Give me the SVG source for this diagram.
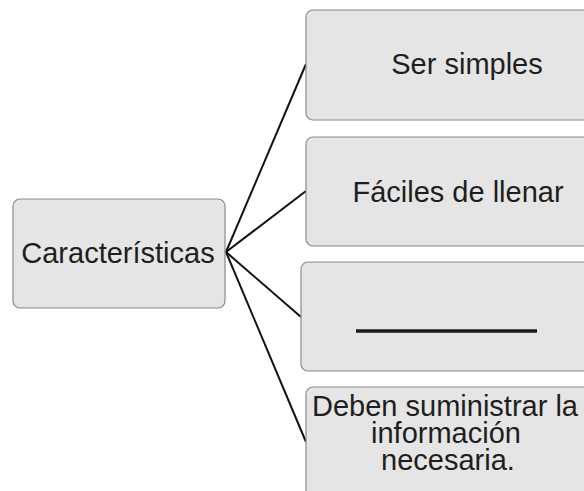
<svg xmlns="http://www.w3.org/2000/svg" width="584" height="491" viewBox="0 0 584 491">
<style>
.box{fill:#e5e5e5;stroke:#8a8a8a;stroke-width:1.2}
.t{font-family:"Liberation Sans",Arial,sans-serif;font-size:29px;fill:#1e1e1e;text-anchor:middle}
.c{stroke:#111;stroke-width:2;fill:none}
</style>
<rect width="584" height="491" fill="#fff"/>
<g id="connectors">
<line class="c" x1="226" y1="252" x2="306" y2="64"/>
<line class="c" x1="226" y1="252" x2="306" y2="191"/>
<line class="c" x1="226" y1="252" x2="301" y2="317"/>
<line class="c" x1="226" y1="252" x2="306" y2="442"/>
</g>
<g id="n0">
<rect class="box" x="13" y="199" width="212" height="109" rx="7"/>
<text class="t" x="118" y="263">Características</text>
</g>
<g id="n1">
<rect class="box" x="306" y="10" width="330" height="110" rx="7"/>
<text class="t" x="467" y="74">Ser simples</text>
</g>
<g id="n2">
<rect class="box" x="306" y="137" width="330" height="109" rx="7"/>
<text class="t" x="458" y="202">Fáciles de llenar</text>
</g>
<g id="n3">
<rect class="box" x="301" y="262" width="330" height="109" rx="7"/>
<line x1="356" y1="331" x2="537" y2="331" stroke="#1a1a1a" stroke-width="3.5"/>
</g>
<g id="n4">
<rect class="box" x="306" y="387" width="330" height="120" rx="7"/>
<text class="t" x="445" y="416">Deben suministrar la</text>
<text class="t" x="446" y="443">información</text>
<text class="t" x="448" y="470">necesaria.</text>
</g>
</svg>
